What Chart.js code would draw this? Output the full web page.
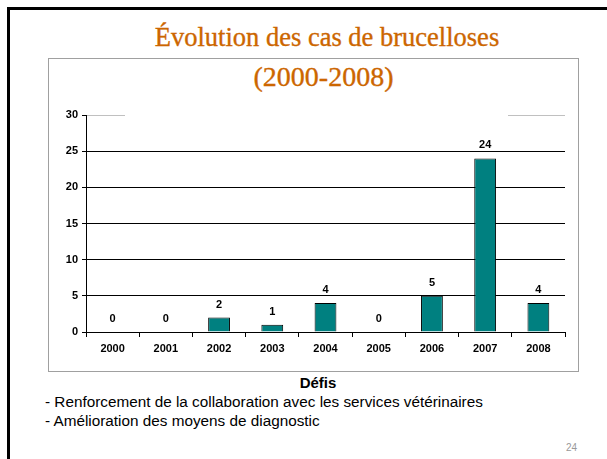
<!DOCTYPE html>
<html>
<head>
<meta charset="utf-8">
<script src="https://cdn.jsdelivr.net/npm/chart.js@4.4.1/dist/chart.umd.min.js"></script>
<style>
  body { margin: 0; background: #fff; width: 607px; height: 459px; overflow: hidden; position: relative; }
  #slide { position: absolute; left: 7px; top: 7px; width: 700px; height: 500px;
           border-left: 3px solid #000; border-top: 3px solid #000; }
  .title { position: absolute; font-family: "Liberation Serif", serif; color: #cc6600;
           text-align: center; white-space: nowrap; -webkit-text-stroke: 0.35px #cc6600; }
  #t1 { left: 127px; width: 400px; top: 21px; font-size: 26.5px; line-height: 32px; }
  #t2 { left: 125px; width: 383px; top: 59px; height: 59px; background: #fff; box-sizing: border-box;
        font-size: 28px; line-height: 36px; padding-left: 14px; }
  #box { position: absolute; left: 48px; top: 58px; width: 531px; height: 314px;
         border: 1px solid #a0a0a0; box-sizing: border-box; }
  #box canvas { position: absolute; left: 0; top: 0; }
  .txt { position: absolute; font-family: "Liberation Sans", Arial, sans-serif; color: #000;
         white-space: nowrap; line-height: 18px; }
</style>
</head>
<body>
<div id="slide"></div>
<div class="title" id="t1">Évolution des cas de brucelloses</div>
<div id="box"><canvas id="chart" width="529" height="312"></canvas></div>
<div class="title" id="t2">(2000-2008)</div>
<div class="txt" style="left:0;width:636px;top:374px;text-align:center;font-size:15px;font-weight:bold;">Défis</div>
<div class="txt" style="left:45px;top:393px;font-size:15.3px;">- Renforcement de la collaboration avec les services vétérinaires</div>
<div class="txt" style="left:45px;top:412px;font-size:15.3px;">- Amélioration des moyens de diagnostic</div>
<div class="txt" style="left:566px;top:439px;font-size:10px;color:#999;">24</div>
<script>
// data
var years = ['2000', '2001', '2002', '2003', '2004', '2005', '2006', '2007', '2008'];
var cases = [0, 0, 2, 1, 4, 0, 5, 24, 4];
var yTicks = [0, 5, 10, 15, 20, 25, 30];

var tickFont = { family: '"Liberation Sans", Arial, sans-serif', size: 11, weight: 'bold' };

// value above each bar
var valueLabels = {
    id: 'valueLabels',
    afterDatasetsDraw: function(chart) {
        var ctx = chart.ctx;
        var meta = chart.getDatasetMeta(0);
        ctx.save();
        ctx.font = 'bold 11px "Liberation Sans", Arial, sans-serif';
        ctx.fillStyle = '#000';
        ctx.textAlign = 'center';
        ctx.textBaseline = 'middle';
        meta.data.forEach(function(bar, i) {
            ctx.fillText(String(cases[i]), bar.x, bar.y - 13);
        });
        ctx.restore();
    }
};

var ctx = document.getElementById('chart').getContext('2d');
var myChart = new Chart(ctx, {
    type: 'bar',
    data: {
        labels: years,
        datasets: [{
            data: cases,
            backgroundColor: '#008080',
            borderColor: '#000',
            borderWidth: 1,
            borderSkipped: 'bottom',
            barPercentage: 0.41,
            categoryPercentage: 1
        }]
    },
    options: {
        responsive: false,
        animation: false,
        layout: { padding: { top: 56, right: 13, left: 0, bottom: 0 } },
        plugins: { legend: { display: false }, tooltip: { enabled: false } },
        scales: {
            x: {
                offset: true,
                grid: { display: true, drawOnChartArea: false, tickLength: 5, color: '#000', offset: true },
                border: { color: '#000', width: 1 },
                ticks: { color: '#000', font: tickFont, padding: 5, maxRotation: 0 },
                afterFit: function(scale) { scale.height = 39; }
            },
            y: {
                min: 0,
                max: 30,
                afterBuildTicks: function(scale) {
                    scale.ticks = yTicks.map(function(v) { return { value: v }; });
                },
                grid: {
                    color: function(c) { return c.tick && c.tick.value === 30 ? '#c0c0c0' : '#000'; },
                    tickColor: '#000',
                    tickLength: 4
                },
                border: { color: '#000', width: 1 },
                ticks: { color: '#000', font: tickFont, padding: 4 },
                afterFit: function(scale) { scale.width = 37; }
            }
        }
    },
    plugins: [valueLabels]
});
</script>
</body>
</html>
